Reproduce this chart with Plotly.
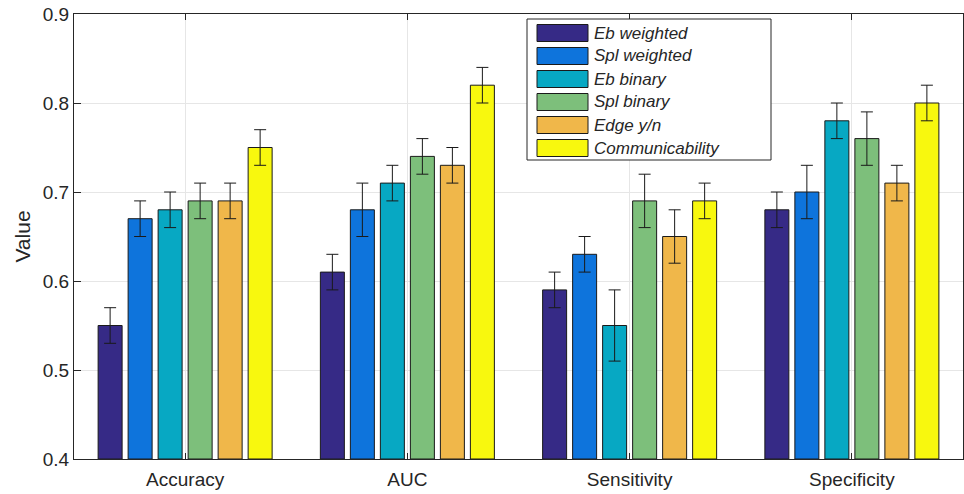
import plotly.graph_objects as go

categories = ["Accuracy", "AUC", "Sensitivity", "Specificity"]
series_names = ["Eb weighted", "Spl weighted", "Eb binary", "Spl binary", "Edge y/n", "Communicability"]
values = [
    [0.55, 0.61, 0.59, 0.68],
    [0.67, 0.68, 0.63, 0.70],
    [0.68, 0.71, 0.55, 0.78],
    [0.69, 0.74, 0.69, 0.76],
    [0.69, 0.73, 0.65, 0.71],
    [0.75, 0.82, 0.69, 0.80],
]
errors = [
    [0.02, 0.02, 0.02, 0.02],
    [0.02, 0.03, 0.02, 0.03],
    [0.02, 0.02, 0.04, 0.02],
    [0.02, 0.02, 0.03, 0.03],
    [0.02, 0.02, 0.03, 0.02],
    [0.02, 0.02, 0.02, 0.02],
]
colors = ["#362a86", "#0e74dc", "#07a8c3", "#7dbf7b", "#f0b74a", "#f8f80e"]
yticks = [0.4, 0.5, 0.6, 0.7, 0.8, 0.9]

FONT = "Liberation Sans, Arial, sans-serif"
TXT = "#262626"
ML, MR, MT, MB = 74, 1, 14, 35
W, H = 964, 494
PW, PH = W - ML - MR, H - MT - MB

def px_x(p):
    return (p - ML) / PW

def px_y(p):
    return (H - MB - p) / PH

fig = go.Figure()
for name, vals, errs, col in zip(series_names, values, errors, colors):
    fig.add_trace(go.Bar(
        x=categories, y=[v - 0.4 for v in vals], base=0.4, name=name,
        marker=dict(color=col, line=dict(color="#1a1a1a", width=1)),
        error_y=dict(type="data", array=errs, color="#1a1a1a", thickness=1, width=6),
        hoverinfo="skip", showlegend=False,
    ))

# custom legend (MATLAB style wide swatches)
shapes = [dict(type="rect", xref="paper", yref="paper",
               x0=px_x(527), x1=px_x(771), y0=px_y(160), y1=px_y(19),
               fillcolor="white", line=dict(color=TXT, width=1), layer="above")]
annotations = []
for i, (name, col) in enumerate(zip(series_names, colors)):
    cy = 33 + 23 * i
    shapes.append(dict(type="rect", xref="paper", yref="paper",
                       x0=px_x(537), x1=px_x(588), y0=px_y(cy + 8.5), y1=px_y(cy - 8.5),
                       fillcolor=col, line=dict(color="#1a1a1a", width=1), layer="above"))
    annotations.append(dict(xref="paper", yref="paper", x=px_x(592), y=px_y(cy),
                            xanchor="left", yanchor="middle", showarrow=False,
                            text=f"<i>{name}</i>",
                            font=dict(family=FONT, size=17, color=TXT)))

fig.update_layout(
    width=W, height=H,
    margin=dict(l=ML, r=MR, t=MT, b=MB),
    paper_bgcolor="white", plot_bgcolor="white",
    barmode="group", bargap=0.19, bargroupgap=0.2,
    font=dict(family=FONT, color=TXT, size=19),
    showlegend=False,
    shapes=shapes, annotations=annotations,
    xaxis=dict(
        type="category", range=[-0.5, 3.5],
        showline=True, linecolor=TXT, linewidth=1, mirror="ticks",
        ticks="inside", ticklen=6, tickcolor=TXT,
        showgrid=True, gridcolor="#e6e6e6", gridwidth=1,
        tickfont=dict(size=19, family=FONT, color=TXT),
        ticklabelstandoff=3,
    ),
    yaxis=dict(
        range=[0.4, 0.9], tickvals=yticks, ticktext=[f"{t:.1f}" for t in yticks],
        showline=True, linecolor=TXT, linewidth=1, mirror=True,
        ticks="inside", ticklen=7, tickcolor=TXT,
        showgrid=True, gridcolor="#e6e6e6", gridwidth=1, zeroline=False,
        tickfont=dict(size=19, family=FONT, color=TXT),
        title=dict(text="Value", font=dict(size=21, family=FONT, color=TXT), standoff=6),
    ),
)

fig.write_html("out.html")
